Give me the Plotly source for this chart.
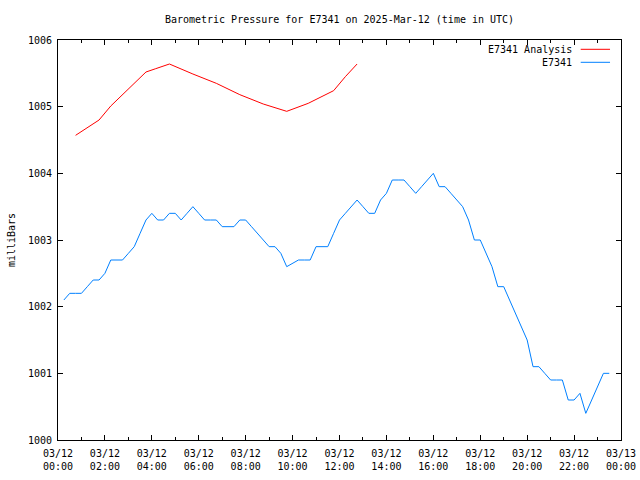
import plotly.graph_objects as go
import pandas as pd

# Observed series (E7341), 15-minute steps starting 00:15 UTC
obs_start = "2025-03-12 00:15"
obs_values = [
    1002.1, 1002.2, 1002.2, 1002.2, 1002.3, 1002.4, 1002.4, 1002.5,
    1002.7, 1002.7, 1002.7, 1002.8, 1002.9, 1003.1, 1003.3, 1003.4,
    1003.3, 1003.3, 1003.4, 1003.4, 1003.3, 1003.4, 1003.5, 1003.4,
    1003.3, 1003.3, 1003.3, 1003.2, 1003.2, 1003.2, 1003.3, 1003.3,
    1003.2, 1003.1, 1003.0, 1002.9, 1002.9, 1002.8, 1002.6, 1002.65,
    1002.7, 1002.7, 1002.7, 1002.9, 1002.9, 1002.9, 1003.1, 1003.3,
    1003.4, 1003.5, 1003.6, 1003.5, 1003.4, 1003.4, 1003.6, 1003.7,
    1003.9, 1003.9, 1003.9, 1003.8, 1003.7, 1003.8, 1003.9, 1004.0,
    1003.8, 1003.8, 1003.7, 1003.6, 1003.5, 1003.3, 1003.0, 1003.0,
    1002.8, 1002.6, 1002.3, 1002.3, 1002.1, 1001.9, 1001.7, 1001.5,
    1001.1, 1001.1, 1001.0, 1000.9, 1000.9, 1000.9, 1000.6, 1000.6,
    1000.7, 1000.4, 1000.6, 1000.8, 1001.0, 1001.0,
]

# Analysis series
ana_times = ["2025-03-12 00:45", "2025-03-12 01:45", "2025-03-12 02:15",
             "2025-03-12 03:45", "2025-03-12 04:10", "2025-03-12 04:45",
             "2025-03-12 05:45", "2025-03-12 06:45", "2025-03-12 07:45",
             "2025-03-12 08:45", "2025-03-12 09:45", "2025-03-12 10:40",
             "2025-03-12 11:45", "2025-03-12 12:15", "2025-03-12 12:45"]
ana_values = [1004.57, 1004.80, 1005.01, 1005.52, 1005.57, 1005.64,
              1005.49, 1005.35, 1005.18, 1005.04, 1004.93, 1005.05,
              1005.24, 1005.45, 1005.64]

obs_times = pd.date_range(obs_start, periods=len(obs_values), freq="15min")

FONT = "DejaVu Sans Mono"

fig = go.Figure()
fig.add_trace(go.Scatter(x=ana_times, y=ana_values, mode="lines",
                         line=dict(color="#ff0000", width=1), name="E7341 Analysis"))
fig.add_trace(go.Scatter(x=obs_times, y=obs_values, mode="lines",
                         line=dict(color="#0080ff", width=1), name="E7341"))

fig.update_layout(
    width=640, height=480,
    margin=dict(l=58, r=19, t=40, b=40, autoexpand=False),
    paper_bgcolor="white", plot_bgcolor="white",
    showlegend=False,
    font=dict(family=FONT, size=10, color="black"),
    title=dict(text="Barometric Pressure for E7341 on 2025-Mar-12 (time in UTC)",
               x=0.5, xref="paper", y=1 - 19 / 480, yanchor="middle",
               font=dict(family=FONT, size=10, color="black")),
)
fig.update_xaxes(
    type="date", range=["2025-03-12 00:00", "2025-03-13 00:00"],
    dtick=2 * 3600000, tick0="2025-03-12 00:00", tickformat="%m/%d<br>%H:%M",
    ticks="inside", ticklen=5, tickcolor="black", showline=True, linecolor="black",
    linewidth=1, mirror="allticks", showgrid=False, zeroline=False,
    minor=dict(ticks="inside", dtick=3600000, ticklen=3, tickcolor="black"),
    tickfont=dict(family=FONT, size=10), ticklabelstandoff=4, automargin=False,
)
fig.update_yaxes(
    range=[1000, 1006], dtick=1, tick0=1000, tickformat="d",
    ticks="inside", ticklen=5, tickcolor="black", showline=True, linecolor="black",
    linewidth=1, mirror="allticks", showgrid=False, zeroline=False,
    title=dict(text="milliBars", font=dict(family=FONT, size=10), standoff=10),
    tickfont=dict(family=FONT, size=10), ticklabelstandoff=3, automargin=False,
)

# Legend drawn at gnuplot-style position (text left of sample line)
leg = [("E7341 Analysis", "#ff0000", 1 - (49.3 - 40) / 400),
       ("E7341", "#0080ff", 1 - (62.3 - 40) / 400)]
for name, col, yp in leg:
    fig.add_annotation(x=0.9165, y=yp, xref="paper", yref="paper", text=name,
                       showarrow=False, xanchor="right", yanchor="middle",
                       font=dict(family=FONT, size=10, color="black"))
    fig.add_shape(type="line", xref="paper", yref="paper", x0=0.9284, x1=0.9805,
                  y0=yp, y1=yp, line=dict(color=col, width=1))

fig.write_html("out.html")
